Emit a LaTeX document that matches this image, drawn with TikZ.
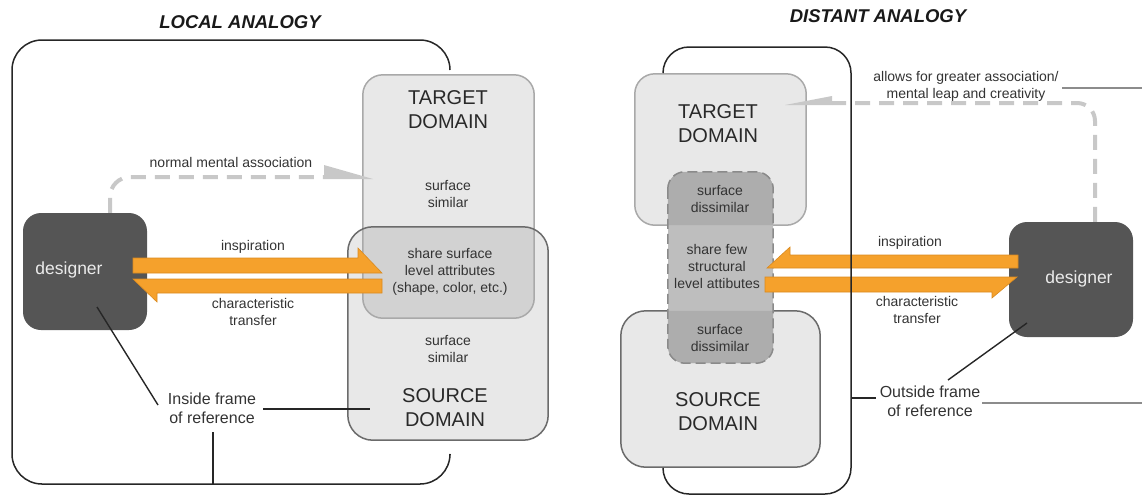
\documentclass[tikz,border=0pt]{standalone}
\usepackage{fontspec}
\setmainfont{Liberation Sans}
\definecolor{boxfill}{HTML}{E8E8E8}
\definecolor{tgtline}{HTML}{A9A9A9}
\definecolor{srcline}{HTML}{6B6B6B}
\definecolor{overlapc}{HTML}{D2D2D2}
\definecolor{midfill}{HTML}{BEBEBE}
\definecolor{midover}{HTML}{ADADAD}
\definecolor{midline}{HTML}{8A8A8A}
\definecolor{dsgn}{HTML}{555555}
\definecolor{orng}{HTML}{F5A12C}
\definecolor{orngline}{HTML}{D98A20}
\definecolor{assocgray}{HTML}{C8C8C8}
\definecolor{txt}{HTML}{333333}
\definecolor{thinline}{HTML}{8C8C8C}
\begin{document}
\begin{tikzpicture}[x=1pt,y=-1pt,
  lbl/.style={font=\fontsize{14}{17}\selectfont, text=txt, align=center, inner sep=0pt},
  big/.style={font=\fontsize{20}{24}\selectfont, text=txt!80!black, align=center, inner sep=0pt},
  ref/.style={font=\fontsize{16}{19}\selectfont, text=txt, align=center, inner sep=0pt},
  ttl/.style={font=\fontsize{18.5}{22}\selectfont\bfseries\itshape, text=black!90, inner sep=0pt},
  dtext/.style={font=\fontsize{17.5}{20}\selectfont, text=white!92!black, inner sep=0pt},
  boxbase/.style={rectangle, inner sep=0pt, fill=boxfill},
  dbox/.style={rectangle, rounded corners=18pt, fill=dsgn, inner sep=0pt, minimum width=124pt},
  frame/.style={draw=black!85, line width=1.5pt},
  leader/.style={draw=black!85, line width=1.4pt},
  greyleader/.style={draw=thinline, line width=1.2pt},
  assoc/.style={draw=assocgray, line width=4pt, dash pattern=on 15pt off 9pt},
  assochead/.style={fill=assocgray},
  orarrow/.style={fill=orng, draw=orngline, line width=0.6pt, line join=miter}
]
\useasboundingbox (0,0) rectangle (1142,499);

% ================= LEFT : LOCAL ANALOGY =================
\node[ttl] (titleL) at (240,22) {LOCAL ANALOGY};

% domain boxes
\node[boxbase, rounded corners=20pt, minimum width=171pt, minimum height=243pt] (tL) at (448.5,196.5) {};
\node[boxbase, rounded corners=25pt, minimum width=200pt, minimum height=213pt] (sL) at (448,333.5) {};
\begin{scope}
  \clip[rounded corners=20pt] (tL.north west) rectangle (tL.south east);
  \fill[overlapc, rounded corners=25pt] (sL.north west) rectangle (sL.south east);
\end{scope}
\draw[tgtline, line width=1.5pt, rounded corners=20pt] (tL.north west) rectangle (tL.south east);
\draw[srcline, line width=1.5pt, rounded corners=25pt] (sL.north west) rectangle (sL.south east);

% frame
\coordinate (fLa) at (450,70);
\coordinate (fLb) at (450,455);
\draw[frame, rounded corners=30pt] (fLa) -- (450,40) -- (12,40) -- (12,484) -- (450,484) -- (fLb);

% texts in boxes
\node[big] (tLtext) at (448,110) {TARGET\\DOMAIN};
\node[lbl] (simL1) at (448,194) {surface\\similar};
\node[lbl] (shareL) at (450,272) {share surface\\level attributes\\(shape, color, etc.)};
\node[lbl] (simL2) at (448,349) {surface\\similar};
\node[big] (sLtext) at (445,408) {SOURCE\\DOMAIN};

% designer
\node[dbox, minimum height=117pt] (dL) at (85,271.5) {};
\node[dtext] (dLtext) at (69,270) {designer};

% normal mental association
\coordinate (aLc) at (110,177);
\coordinate (aLh) at (324,177);
\draw[assoc, rounded corners=20pt] (dL.north -| aLc) -- (aLc) -- (aLh);
\fill[assochead] (324,165) -- (373,179) -- (324,179) -- cycle;
\node[lbl] (normL) at (231,162) {normal mental association};

% orange arrows
\draw[orarrow] (133,258) -- (358,258) -- (358,248) -- (382,273) -- (133,273) -- cycle;
\draw[orarrow] (382,279) -- (382,293) -- (157,293) -- (157,302) -- (133,279) -- cycle;
\node[lbl] (inspL) at (253,247) {inspiration};
\node[lbl] (charL) at (253,312) {characteristic\\transfer};

% frame of reference
\node[ref] (insideL) at (212,408.5) {Inside frame\\of reference};
\coordinate (dLp) at (97,307);
\draw[leader] (dLp) -- (158,405);
\draw[leader] (263,409) -- (370,409);
\draw[leader] (insideL.south -| 213,0) ++(0,8) -- (213,484);

% ================= RIGHT : DISTANT ANALOGY =================
\node[ttl] (titleR) at (878,16) {DISTANT ANALOGY};

\node[boxbase, rounded corners=20pt, minimum width=171pt, minimum height=151pt] (tR) at (720.5,149.5) {};
\node[boxbase, rounded corners=25pt, minimum width=199pt, minimum height=156pt] (sR) at (720.5,389) {};
\draw[tgtline, line width=1.5pt, rounded corners=20pt] (tR.north west) rectangle (tR.south east);
\draw[srcline, line width=1.5pt, rounded corners=25pt] (sR.north west) rectangle (sR.south east);

% middle dashed box
\node[rectangle, rounded corners=17pt, fill=midfill, inner sep=0pt, minimum width=105pt, minimum height=191pt] (mR) at (720.5,267.5) {};
\begin{scope}
  \clip[rounded corners=20pt] (tR.north west) rectangle (tR.south east);
  \fill[midover, rounded corners=17pt] (mR.north west) rectangle (mR.south east);
\end{scope}
\begin{scope}
  \clip[rounded corners=25pt] (sR.north west) rectangle (sR.south east);
  \fill[midover, rounded corners=17pt] (mR.north west) rectangle (mR.south east);
\end{scope}
\draw[midline, line width=1.5pt, dash pattern=on 10pt off 5pt, rounded corners=17pt] (mR.north west) rectangle (mR.south east);

\node[big] (tRtext) at (718,123.5) {TARGET\\DOMAIN};
\node[lbl] (disR1) at (720,199) {surface\\dissimilar};
\node[lbl] (shareR) at (717,266) {share few\\structural\\level attibutes};
\node[lbl] (disR2) at (720,337.5) {surface\\dissimilar};
\node[big] (sRtext) at (718,411.5) {SOURCE\\DOMAIN};

% designer
\node[dbox, minimum height=115pt] (dR) at (1071,279.5) {};
\node[dtext] (dRtext) at (1079,279) {designer};

% greater association
\coordinate (aRc) at (1095,103);
\coordinate (aRh) at (832,103);
\draw[assoc, rounded corners=18pt] (dR.north -| aRc) -- (aRc) -- (aRh);
\fill[assochead] (832,96) -- (785,105) -- (832,105) -- cycle;
\node[lbl] (allowR) at (966,86) {allows for greater association/\\mental leap and creativity};
\draw[greyleader] (1062,88) -- (1142,88);

% orange arrows
\draw[orarrow] (1018,255) -- (1018,268) -- (767,268) -- (790,247) -- (790,255) -- cycle;
\draw[orarrow] (765,277) -- (1017,277) -- (992,298) -- (992,292) -- (765,292) -- cycle;
\node[lbl] (inspR) at (910,243) {inspiration};
\node[lbl] (charR) at (917,310) {characteristic\\transfer};

% frame
\coordinate (fRa) at (663,73);
\coordinate (fRb) at (663,469);
\draw[frame, rounded corners=26pt] (fRa) -- (663,47) -- (851,47) -- (851,494) -- (663,494) -- (fRb);

% frame of reference
\node[ref] (outsideR) at (930,401.5) {Outside frame\\of reference};
\coordinate (dRp) at (1027,323);
\draw[leader] (dRp) -- (948,380);
\draw[leader] (851,398) -- (876,398);
\draw[greyleader] (982,403) -- (1142,403);
\end{tikzpicture}
\end{document}
